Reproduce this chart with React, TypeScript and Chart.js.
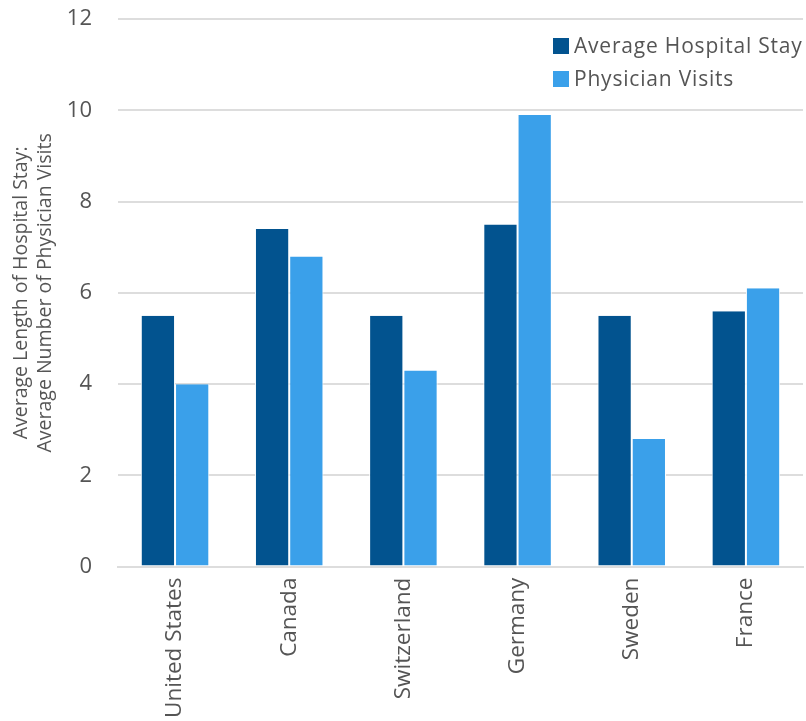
import React, { useEffect, useRef } from "react";
import { Chart, registerables } from "chart.js";

Chart.register(...registerables);

const categories = ["United States", "Canada", "Switzerland", "Germany", "Sweden", "France"];
const hospitalStay = [5.5, 7.4, 5.5, 7.5, 5.5, 5.6];
const physicianVisits = [4.0, 6.8, 4.3, 9.9, 2.8, 6.1];
const seriesNames = ["Average Hospital Stay", "Physician Visits"];
const yTitle = ["Average Length of Hospital Stay:", "Average Number of Physician Visits"];

const FONT = "'Open Sans', sans-serif";

const legendPlugin = {
  id: "customLegend",
  afterDraw(chart: any) {
    const ctx = chart.ctx;
    const x0 = 553;
    const rows = [46, 79];
    ctx.save();
    ctx.font = `21px ${FONT}`;
    (ctx as any).letterSpacing = "0.8px";
    ctx.textBaseline = "middle";
    ctx.textAlign = "left";
    chart.data.datasets.forEach((ds: any, i: number) => {
      const y = rows[i];
      ctx.fillStyle = ds.backgroundColor;
      ctx.fillRect(x0, y - 8, 16, 16);
      ctx.fillStyle = "#555555";
      ctx.fillText(ds.label, x0 + 21, y + 1);
    });
    ctx.restore();
  },
};

export default function App() {
  const ref = useRef<HTMLCanvasElement>(null);
  useEffect(() => {
    const chart = new Chart(ref.current!, {
      type: "bar",
      data: {
        labels: categories,
        datasets: [
          {
            label: seriesNames[0],
            data: hospitalStay,
            backgroundColor: "#02538f",
            borderColor: "#ffffff",
            borderWidth: { left: 1, right: 1, top: 0, bottom: 0 } as any,
            categoryPercentage: 0.6,
            barPercentage: 1,
          },
          {
            label: seriesNames[1],
            data: physicianVisits,
            backgroundColor: "#3aa0ea",
            borderColor: "#ffffff",
            borderWidth: { left: 1, right: 1, top: 0, bottom: 0 } as any,
            categoryPercentage: 0.6,
            barPercentage: 1,
          },
        ],
      },
      options: {
        animation: false,
        responsive: false,
        maintainAspectRatio: false,
        layout: { padding: { left: 10, right: 3, top: 0, bottom: -8 } },
        plugins: {
          legend: { display: false },
          tooltip: { enabled: false },
        },
        scales: {
          x: {
            grid: { display: false, drawTicks: false },
            border: { color: "#dddddd", width: 2 },
            ticks: {
              color: "#555555",
              font: { family: FONT, size: 22.5 },
              maxRotation: 90,
              minRotation: 90,
              padding: 11,
            },
          },
          y: {
            min: 0,
            max: 12,
            grid: { color: "#dddddd", lineWidth: 2, drawTicks: true, tickLength: 20, tickColor: "rgba(0,0,0,0)" },
            border: { display: false },
            ticks: {
              stepSize: 2,
              color: "#555555",
              font: { family: FONT, size: 22 },
              padding: 6,
            },
            title: {
              display: true,
              text: yTitle,
              color: "#555555",
              font: { family: FONT, size: 19.5, lineHeight: 1.2 },
              padding: { top: 0, bottom: 4 },
            },
          },
        },
      },
      plugins: [legendPlugin],
    });
    return () => chart.destroy();
  }, []);
  return (
    <div style={{ position: "fixed", left: 0, top: 0, width: 806, height: 721, background: "#fff" }}>
      <canvas ref={ref} width={806} height={721} style={{ display: "block" }} />
    </div>
  );
}
